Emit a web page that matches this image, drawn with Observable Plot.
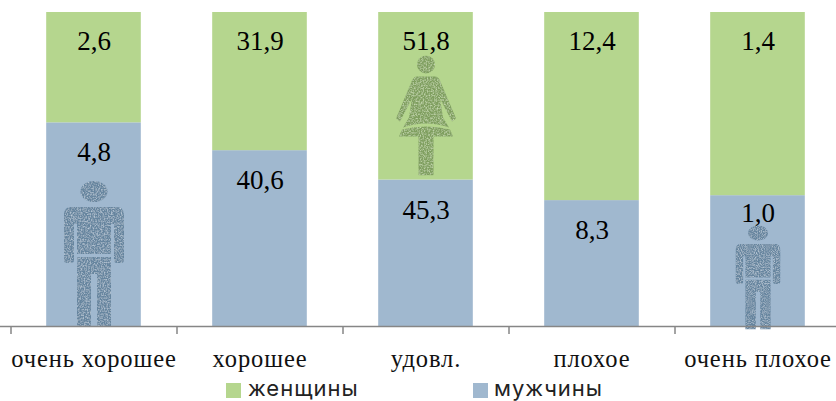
<!DOCTYPE html>
<html><head><meta charset="utf-8">
<script src="https://cdn.jsdelivr.net/npm/d3@7"></script>
<script src="https://cdn.jsdelivr.net/npm/@observablehq/plot@0.6"></script>
<style>
html,body{margin:0;padding:0;background:#fff;overflow:hidden}
#legend{position:relative;height:25px;font:22px Inter,sans-serif;color:#222;line-height:25px;letter-spacing:1px}
#legend span{position:absolute;top:0;white-space:nowrap}
#legend i{position:absolute;top:7px;width:15px;height:15px}
</style></head><body>
<div id="chart"></div>
<div id="legend"></div>
<script>
const categories = ["очень хорошее","хорошее","удовл.","плохое","очень плохое"];
const men = [4.8,40.6,45.3,8.3,1.0];
const women = [2.6,31.9,51.8,12.4,1.4];
const seriesNames = ["мужчины","женщины"];
const seriesColors = ["#a0b8cf","#b5d68e"];

const fmt = v => v.toFixed(1).replace(".", ",");
const rows = categories.flatMap((c,i)=>[
  {c, s:seriesNames[0], v:men[i]},
  {c, s:seriesNames[1], v:women[i]}
]);
const labels = categories.map((c,i)=>({c, share:men[i]/(men[i]+women[i]), m:fmt(men[i]), w:fmt(women[i])}));

const speckle = (r,g,b) => `<filter id="f" x="-5%" y="-5%" width="110%" height="110%"><feTurbulence type="fractalNoise" baseFrequency="0.7" numOctaves="2" seed="4" result="n"/><feColorMatrix in="n" type="matrix" values="0 0 0 0 ${r}  0 0 0 0 ${g}  0 0 0 0 ${b}  0 0 0 -1.6 0.95" result="s"/><feComposite in="s" in2="SourceAlpha" operator="in" result="t"/><feMerge><feMergeNode in="SourceGraphic"/><feMergeNode in="t"/></feMerge></filter>`;
const uri = s => "data:image/svg+xml;charset=utf-8," + encodeURIComponent(s);
const manSrc = uri(`<svg xmlns="http://www.w3.org/2000/svg" viewBox="0 0 62 146" preserveAspectRatio="none">${speckle(.63,.72,.81)}<g fill="#66859f" filter="url(#f)"><ellipse cx="31" cy="10.5" rx="13.5" ry="10.5"/><path d="M8 26H54Q61 26 61 34V79Q61 82 58 82H54Q51 82 51 79V43H48V73H14V43H11V79Q11 82 8 82H4Q1 82 1 79V34Q1 26 8 26Z"/><path d="M14 76H48V146H34V93H28V146H14Z"/></g></svg>`);
const womanSrc = uri(`<svg xmlns="http://www.w3.org/2000/svg" viewBox="0 0 60 120">${speckle(.71,.84,.56)}<g fill="#7f9f5f" filter="url(#f)"><circle cx="30" cy="9" r="9"/><path d="M21 21H39Q42 21 44 25L60 63 56 66 44 43 47 62 53 72 Q30 64 7 72 L13 62 16 43 4 66 0 63 16 25Q18 21 21 21Z"/><path d="M6 74Q30 68 54 74L57 81H3Z"/><path d="M22.5 79H37.5V120H22.5Z"/></g></svg>`);

const serif = "'Liberation Serif',serif";
const chart = Plot.plot({
  width:836, height:376, marginTop:12, marginBottom:42, marginLeft:0, marginRight:0,
  style:{background:"#fff", fontFamily:serif},
  x:{domain:categories, range:[10.5,840.5], paddingInner:.43, paddingOuter:.215, align:.5, round:false, label:null},
  y:{domain:[-0.02548,1], label:null, axis:null},
  color:{domain:seriesNames, range:seriesColors},
  marks:[
    Plot.barY(rows,{x:"c", y:"v", fill:"s", offset:"normalize", order:null}),
    Plot.image([categories[0]],{x:d=>d, y:()=>0, dy:-72.5, width:62, height:146, src:()=>manSrc}),
    Plot.image([categories[4]],{x:d=>d, y:()=>0, dy:-49, width:46, height:104, src:()=>manSrc, preserveAspectRatio:"none"}),
    Plot.image([categories[2]],{x:d=>d, y:()=>0, dy:-211, width:60, height:120, src:()=>womanSrc}),
    Plot.ruleY([0],{stroke:"#868686", strokeWidth:1.5}),
    Plot.ruleX(categories,{x:d=>d, y1:()=>-0.02548, y2:()=>0, dx:-83, stroke:"#868686", strokeWidth:1.5}),
    Plot.axisX({tickSize:0, tickPadding:15, fontSize:24.5, label:null, fill:"#111", fontFamily:serif}),
    Plot.text(labels,{x:"c", y:()=>1, dy:29, text:"w", fontSize:27, fill:"#000", fontFamily:serif}),
    Plot.text(labels.slice(0,4),{x:"c", y:"share", dy:30, text:"m", fontSize:27, fill:"#000", fontFamily:serif}),
    Plot.text(labels.slice(4),{x:"c", y:"share", dy:18, text:"m", fontSize:27, fill:"#000", fontFamily:serif})
  ]
});
document.getElementById("chart").append(chart);
chart.style.display="block";
chart.querySelectorAll("text").forEach(t=>{
  if (categories.includes(t.textContent.trim())) t.style.letterSpacing="0.9px";
});

const lg = document.getElementById("legend");
[[seriesNames[1],seriesColors[1],226,22],[seriesNames[0],seriesColors[0],473,21]].forEach(([n,col,x,gap])=>{
  const i=document.createElement("i"); i.style.left=x+"px"; i.style.background=col; lg.append(i);
  const s=document.createElement("span"); s.style.left=(x+gap)+"px"; s.textContent=n; lg.append(s);
});
</script>
</body></html>
